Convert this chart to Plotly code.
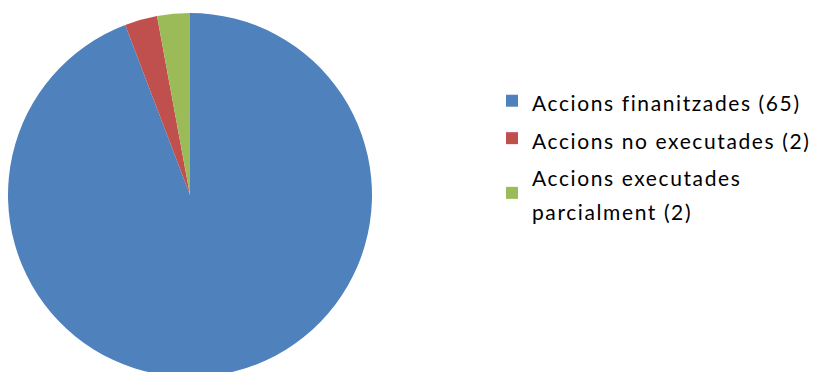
import plotly.graph_objects as go

labels = ["Accions finanitzades (65)", "Accions no executades (2)", "Accions executades<br>parcialment (2)"]
values = [65, 2, 2]
colors = ["#4F81BD", "#C0504D", "#9BBB59"]

W, H = 821, 390
cx, cy, r = 190, 195, 182

SPAN = '<span style="font-size:21px;letter-spacing:1.6px">'
legend_labels = [SPAN + l.replace("<br>", "</span><br>" + SPAN) + "</span>" for l in labels]

fig = go.Figure(go.Pie(
    labels=legend_labels,
    values=values,
    marker=dict(colors=colors, line=dict(width=0)),
    sort=False,
    direction="clockwise",
    rotation=0,
    textinfo="none",
    hoverinfo="label+value",
    domain=dict(x=[(cx - r) / W, (cx + r) / W], y=[(H - cy - r) / H, (H - cy + r) / H]),
))

fig.update_layout(
    width=W, height=H,
    margin=dict(l=0, r=0, t=0, b=0, autoexpand=False),
    paper_bgcolor="white",
    font=dict(family="Lato, sans-serif", color="#000000"),
    showlegend=True,
    legend=dict(
        x=492 / W, xanchor="left",
        y=1 - 77 / H, yanchor="top",
        font=dict(size=26.5, family="Lato, sans-serif", color="#000000"),
        bgcolor="rgba(0,0,0,0)",
    ),
)

fig.write_html("out.html", config={"displayModeBar": False},
               post_script="document.body.style.margin='0';document.body.style.overflow='hidden';")
